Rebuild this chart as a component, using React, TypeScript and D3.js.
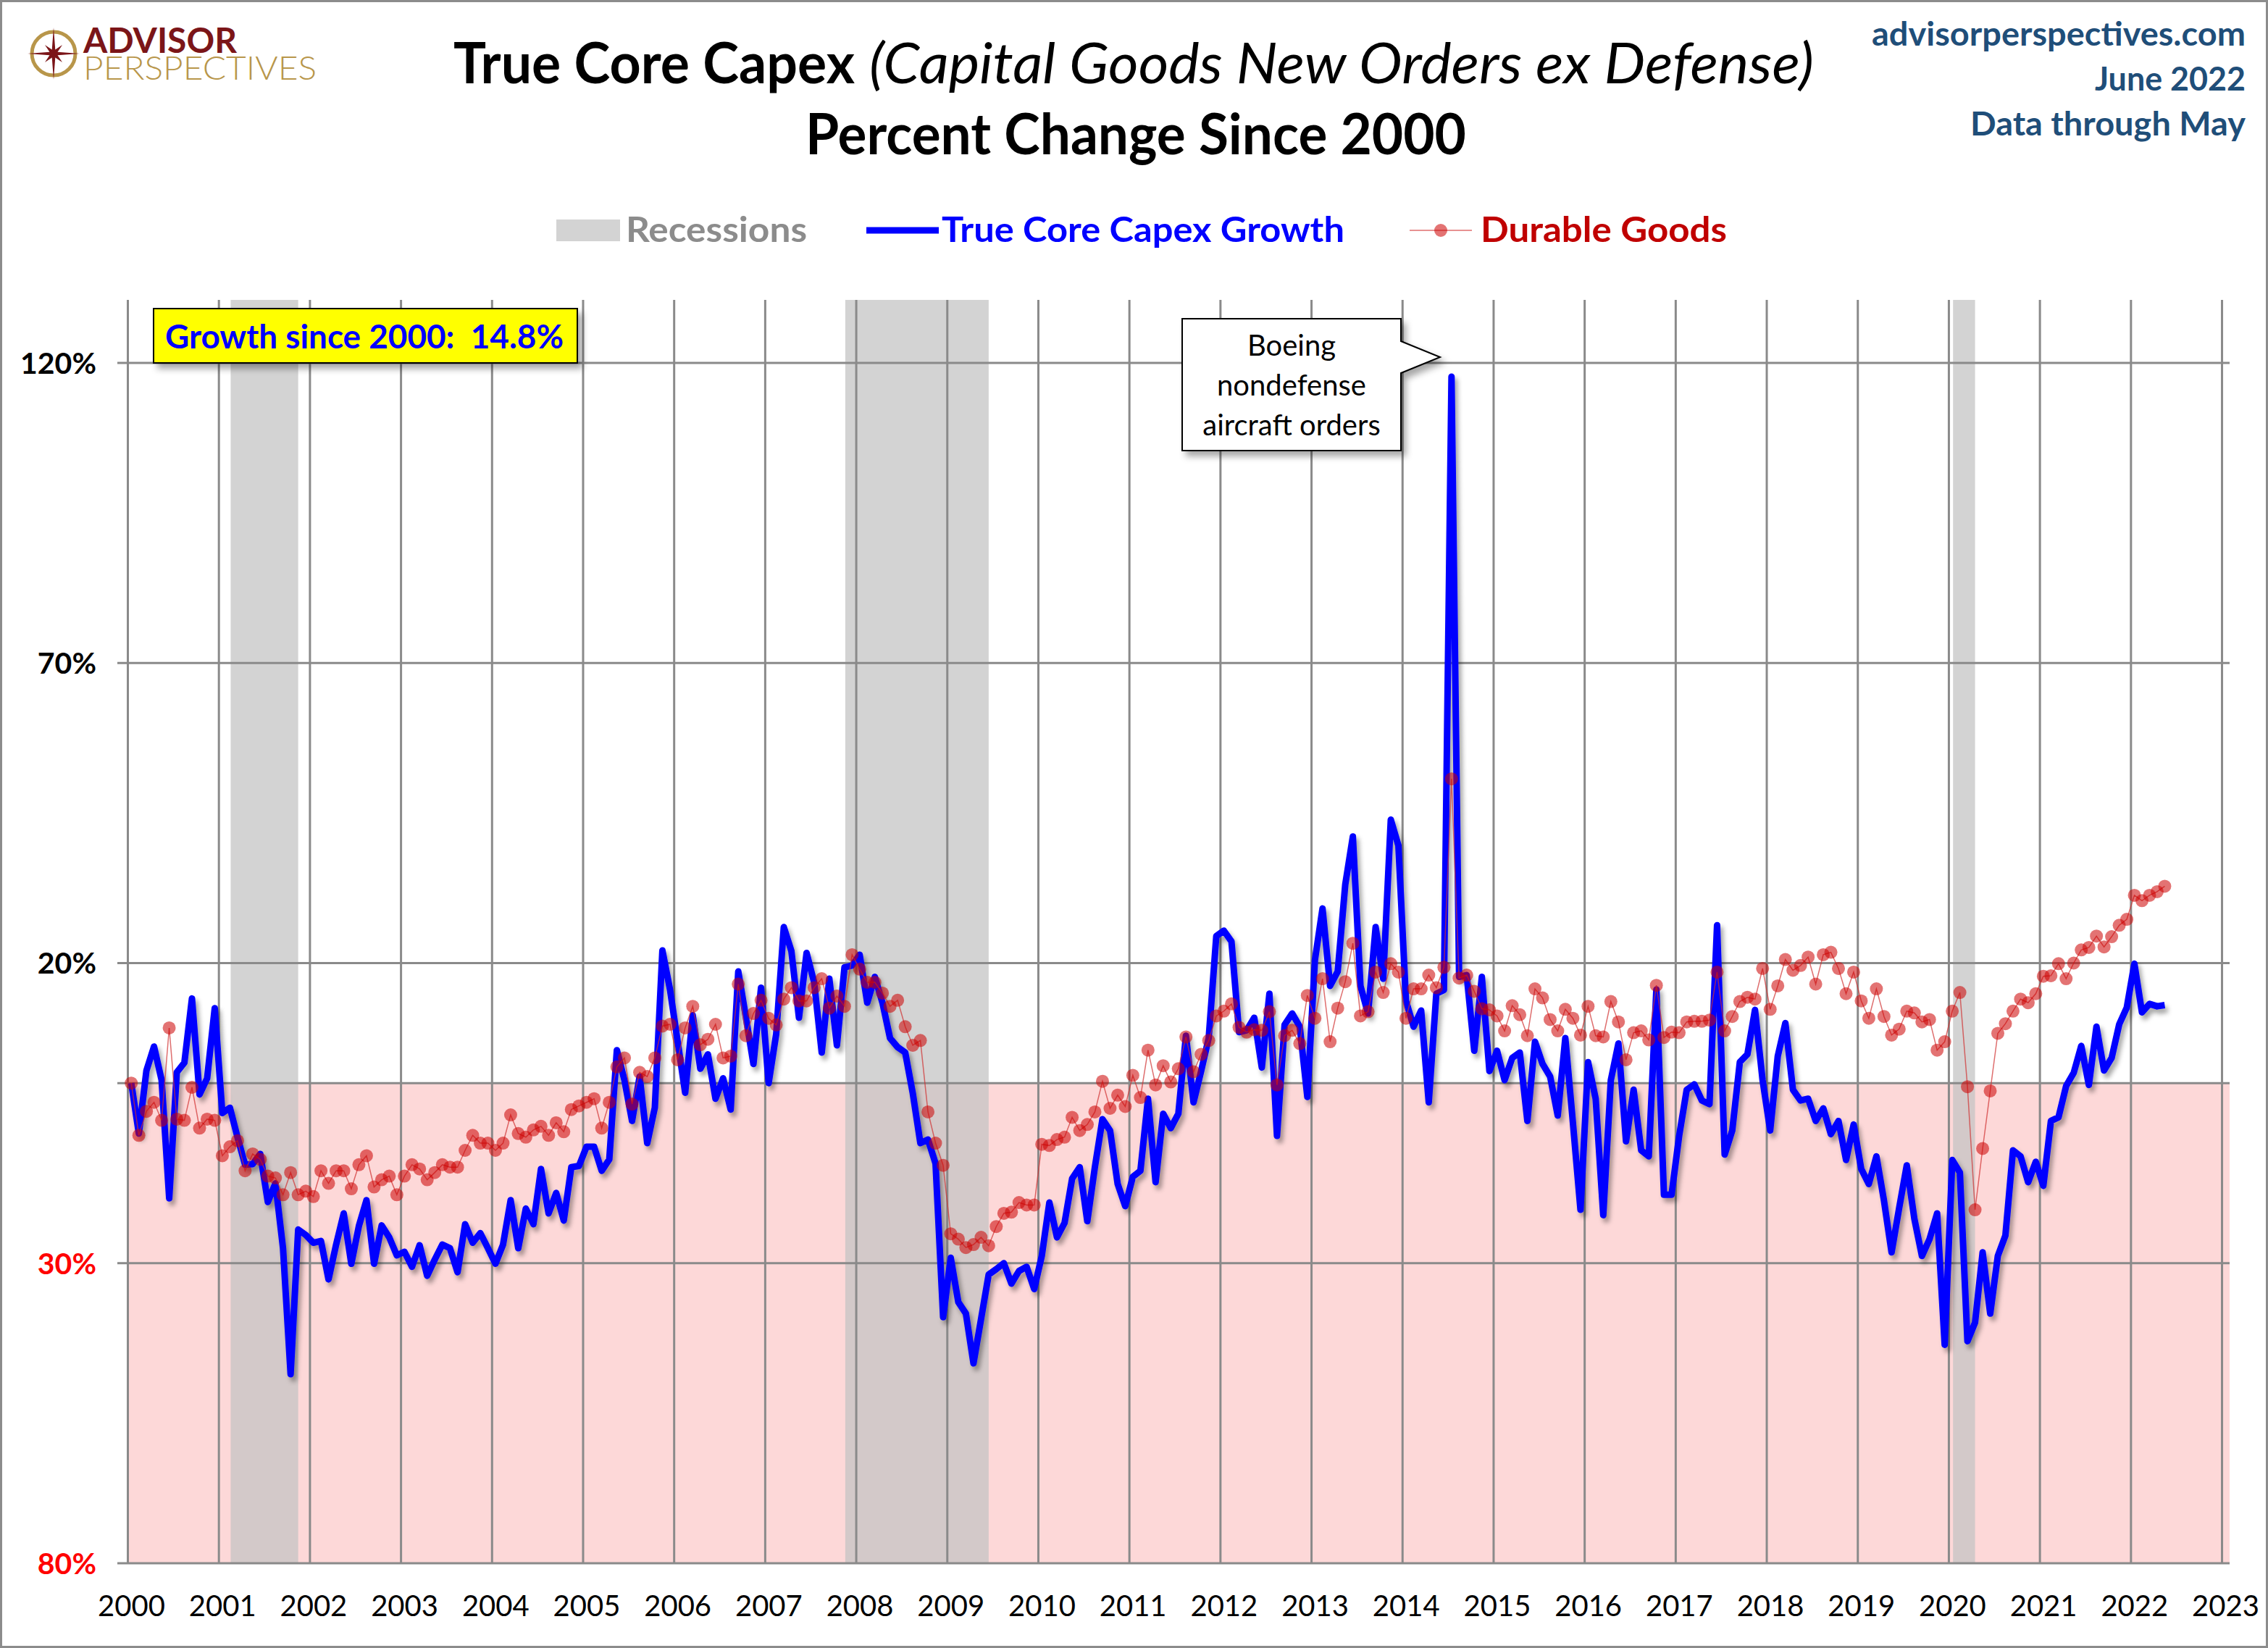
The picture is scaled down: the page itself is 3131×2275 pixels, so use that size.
import * as d3 from 'd3';

// Month index 0 = Jan 2000, last = May 2022
const capexGrowth: number[] = [
  0.0, -8.4, 2.1, 6.1, 0.5, -19.2, 1.8, 3.4, 14.1, -1.9, 0.8, 12.5, // 2000
  -5.0, -4.1, -9.0, -13.6, -13.5, -11.8, -19.8, -16.7, -27.5, -48.5, -24.4, -25.3, // 2001
  -26.6, -26.3, -32.7, -26.9, -21.7, -30.1, -23.8, -19.5, -30.1, -23.7, -25.7, -28.7, // 2002
  -28.1, -30.6, -27.0, -32.1, -29.4, -26.9, -27.5, -31.5, -23.5, -26.6, -25.0, -27.5, // 2003
  -30.1, -26.9, -19.5, -27.5, -20.9, -23.5, -14.3, -21.7, -18.3, -22.9, -14.0, -13.8, // 2004
  -10.6, -10.6, -14.6, -12.7, 5.5, 0.5, -6.3, 1.1, -10.0, -4.1, 22.1, 15.6, // 2005
  7.0, -1.6, 11.3, 2.4, 4.8, -2.6, 0.8, -4.4, 18.6, 11.0, 3.2, 15.9, // 2006
  0.0, 8.2, 26.0, 22.0, 10.9, 21.7, 16.8, 5.1, 17.4, 6.3, 19.3, 19.6, // 2007
  21.4, 13.4, 17.7, 13.4, 7.5, 6.0, 5.1, -1.7, -10.0, -9.4, -13.4, -39.0, // 2008
  -29.1, -36.5, -38.4, -46.7, -39.3, -31.9, -31.0, -30.0, -33.4, -31.3, -30.6, -34.3, // 2009
  -28.8, -19.9, -25.7, -23.3, -15.9, -14.0, -23.0, -14.0, -6.0, -7.9, -16.8, -20.5, // 2010
  -15.6, -14.6, -2.6, -16.5, -5.1, -7.5, -5.1, 7.9, -3.2, 2.0, 7.5, 24.5, // 2011
  25.4, 23.6, 8.5, 8.8, 10.9, 2.6, 14.9, -8.8, 9.7, 11.6, 9.4, -2.3, // 2012
  20.5, 29.1, 16.2, 18.6, 33.1, 41.1, 16.2, 11.6, 26.0, 17.4, 43.9, 39.6, // 2013
  13.7, 9.4, 12.1, -3.2, 14.9, 15.5, 117.7, 17.7, 18.0, 5.4, 17.7, 2.0, // 2014
  5.4, 0.5, 4.2, 5.1, -6.3, 6.9, 3.2, 1.1, -5.4, 7.5, -6.6, -21.1, // 2015
  3.5, -2.6, -22.0, 0.5, 6.6, -9.7, -1.1, -11.2, -12.2, 15.6, -18.6, -18.6, // 2016
  -8.8, -1.1, -0.2, -2.9, -3.5, 26.3, -11.9, -7.9, 3.5, 4.8, 12.2, 0.5, // 2017
  -7.9, 4.5, 10.0, -1.1, -2.9, -2.6, -6.3, -4.2, -8.5, -6.3, -12.8, -6.9, // 2018
  -14.3, -16.8, -12.2, -19.6, -28.2, -20.8, -13.7, -22.6, -28.8, -26.0, -21.7, -43.6, // 2019
  -12.8, -14.9, -43.0, -39.9, -28.2, -38.4, -28.8, -25.4, -11.2, -12.2, -16.5, -13.1, // 2020
  -17.1, -6.3, -5.7, -0.5, 1.7, 6.2, -0.3, 9.4, 2.1, 4.2, 9.8, 12.6, // 2021
  19.9, 11.8, 13.2, 12.8, 13.0, // 2022
];

const durableGoods: number[] = [
  0.0, -8.7, -4.7, -3.2, -6.2, 9.2, -6.0, -6.2, -0.7, -7.5, -6.0, -6.2, // 2000
  -12.1, -10.6, -9.6, -14.6, -11.8, -12.7, -15.5, -15.8, -18.6, -14.9, -18.6, -18.0, // 2001
  -18.9, -14.6, -16.7, -14.6, -14.6, -17.6, -13.6, -12.1, -17.3, -16.1, -15.5, -18.6, // 2002
  -15.5, -13.6, -14.3, -16.1, -14.9, -13.6, -14.0, -14.0, -11.2, -8.7, -10.0, -10.0, // 2003
  -11.2, -10.0, -5.3, -8.4, -9.0, -7.8, -7.2, -8.7, -6.6, -8.1, -4.4, -3.8, // 2004
  -3.2, -2.6, -7.5, -3.2, 2.7, 4.2, -3.5, 1.8, 1.1, 4.2, 9.5, 9.8, // 2005
  3.9, 9.2, 12.8, 6.4, 7.3, 9.8, 4.2, 4.5, 16.5, 7.9, 11.6, 13.8, // 2006
  10.8, 9.7, 14.0, 15.9, 13.7, 13.7, 15.9, 17.4, 12.5, 14.5, 12.8, 21.4, // 2007
  19.0, 16.8, 16.8, 15.0, 12.8, 13.8, 9.4, 6.3, 7.1, -4.8, -10.0, -13.7, // 2008
  -25.1, -26.0, -27.4, -26.9, -25.7, -27.1, -23.9, -21.7, -21.5, -19.9, -20.3, -20.3, // 2009
  -10.2, -10.4, -9.4, -9.0, -5.7, -7.9, -6.9, -4.8, 0.3, -4.2, -2.0, -3.9, // 2010
  1.3, -2.4, 5.5, -0.3, 2.9, 0.2, 2.4, 7.7, 1.9, 4.8, 7.1, 11.2, // 2011
  12.0, 13.2, 9.3, 8.5, 8.9, 8.8, 11.9, -0.3, 7.9, 8.8, 6.6, 14.6, // 2012
  10.8, 17.4, 6.9, 12.5, 16.9, 23.3, 11.2, 11.9, 18.5, 15.1, 19.9, 18.5, // 2013
  10.8, 15.7, 15.7, 18.0, 15.9, 19.3, 50.7, 17.5, 18.0, 15.3, 12.4, 12.2, // 2014
  11.2, 8.7, 12.9, 11.4, 7.9, 15.7, 14.2, 10.6, 8.7, 12.3, 10.8, 8.0, // 2015
  12.8, 7.9, 7.7, 13.6, 10.2, 3.9, 8.4, 8.7, 7.2, 16.3, 7.6, 8.5, // 2016
  8.4, 10.2, 10.3, 10.3, 10.5, 18.5, 8.7, 11.1, 13.6, 14.3, 14.0, 19.1, // 2017
  12.3, 16.2, 20.6, 18.8, 19.6, 21.0, 16.5, 21.4, 21.8, 19.1, 14.9, 18.5, // 2018
  13.7, 10.8, 15.7, 11.1, 8.0, 9.0, 12.0, 11.7, 10.2, 10.6, 5.5, 6.9, // 2019
  12.0, 15.1, -0.6, -21.1, -10.9, -1.3, 8.3, 9.9, 12.0, 14.0, 13.4, 14.9, // 2020
  17.8, 17.9, 19.9, 17.4, 20.0, 22.2, 22.6, 24.5, 22.7, 24.4, 26.3, 27.3, // 2021
  31.3, 30.4, 31.3, 31.9, 32.8, // 2022
];

// recessions as [first month index, last month index]
const recessions: [number, number][] = [
  [14, 22], // Mar 2001 - Nov 2001
  [95, 113], // Dec 2007 - Jun 2009
  [241, 243], // Feb 2020 - Apr 2020
];

const yearLabels: number[] = d3.range(2000, 2024);
const yTicks: number[] = [120, 70, 20, -30, -80];
const boeingNote: string[] = ['Boeing', 'nondefense', 'aircraft orders'];

const W = 3131;
const H = 2275;
const FONT = "Lato, 'Open Sans', 'Liberation Sans', sans-serif";

export default function App() {
  const x = d3.scaleLinear().domain([0, 277]).range([176.5, 3078]);
  const y = d3.scaleLinear().domain([-80, 130.5]).range([2158, 414]);
  const px = (i: number) => x(i + 0.45);

  const line = d3
    .line<number>()
    .x((_, i) => px(i))
    .y((d) => y(d));

  const plotLeft = x(0);
  const plotRight = x(277);
  const plotTop = y(130.5);
  const plotBottom = y(-80);

  // compass star of the logo
  const starPts: [number, number][] = d3.range(16).map((k) => {
    const a = (k * Math.PI) / 8 - Math.PI / 2;
    const r = k % 4 === 0 ? 36 : k % 2 === 0 ? 17 : 6;
    return [74 + r * Math.cos(a), 74 + r * Math.sin(a)];
  });
  const starPath = d3.line()(starPts) + 'Z';

  return (
    <svg
      width={W}
      height={H}
      viewBox={`0 0 ${W} ${H}`}
      style={{ position: 'absolute', left: 0, top: 0, background: '#fff' }}
      fontFamily={FONT}
    >
      <defs>
        <filter id="lineShadow" filterUnits="userSpaceOnUse" x="0" y="0" width={W} height={H}>
          <feDropShadow dx="4" dy="6" stdDeviation="3" floodColor="#000" floodOpacity="0.35" />
        </filter>
        <filter id="boxShadow" filterUnits="userSpaceOnUse" x="0" y="0" width={W} height={H}>
          <feDropShadow dx="6" dy="7" stdDeviation="5" floodColor="#000" floodOpacity="0.35" />
        </filter>
      </defs>

      <rect x={0} y={0} width={W} height={H} fill="#fff" />

      {/* logo */}
      <circle cx={74} cy={74} r={30} fill="none" stroke="#b8964a" strokeWidth={5} />
      <path d={starPath} fill="#7b1518" />
      <text>
        <tspan x={115} y={73} fontSize={48} fontWeight={700} fill="#7b1518" textLength={212} lengthAdjust="spacingAndGlyphs">
          ADVISOR
        </tspan>
        <tspan x={115} y={110} fontSize={46} fontWeight={300} fill="#b8964a" textLength={322} lengthAdjust="spacingAndGlyphs">
          PERSPECTIVES
        </tspan>
      </text>

      {/* titles */}
      <text x={626} y={115} fontSize={78} fontWeight={700} fill="#000" textLength={554} lengthAdjust="spacingAndGlyphs">
        True Core Capex
      </text>
      <text x={1200} y={115} fontSize={78} fontStyle="italic" fill="#000" textLength={1304} lengthAdjust="spacingAndGlyphs">
        (Capital Goods New Orders ex Defense)
      </text>
      <text x={1112} y={213} fontSize={78} fontWeight={700} fill="#000" textLength={912} lengthAdjust="spacingAndGlyphs">
        Percent Change Since 2000
      </text>

      <g fill="#1f4e79" fontWeight={700} fontSize={46} textAnchor="end">
        <text x={3100} y={63} textLength={516} lengthAdjust="spacingAndGlyphs">advisorperspectives.com</text>
        <text x={3100} y={125} textLength={208} lengthAdjust="spacingAndGlyphs">June 2022</text>
        <text x={3100} y={187} textLength={380} lengthAdjust="spacingAndGlyphs">Data through May</text>
      </g>

      {/* legend */}
      <rect x={768} y={303} width={88} height={30} fill="#d3d3d3" />
      <text x={864} y={334} fontSize={48} fontWeight={700} fill="#8c8c8c" textLength={250} lengthAdjust="spacingAndGlyphs">
        Recessions
      </text>
      <line x1={1196} x2={1296} y1={318} y2={318} stroke="#0000ff" strokeWidth={9} />
      <text x={1300} y={334} fontSize={48} fontWeight={700} fill="#0000ff" textLength={556} lengthAdjust="spacingAndGlyphs">
        True Core Capex Growth
      </text>
      <line x1={1946} x2={2032} y1={318} y2={318} stroke="#d03030" strokeWidth={1.5} opacity={0.7} />
      <circle cx={1989} cy={318} r={9} fill="#cc0000" fillOpacity={0.55} />
      <text x={2044} y={334} fontSize={48} fontWeight={700} fill="#c00000" textLength={340} lengthAdjust="spacingAndGlyphs">
        Durable Goods
      </text>

      {/* negative zone */}
      <rect x={plotLeft} y={y(0)} width={plotRight - plotLeft} height={plotBottom - y(0)} fill="#fdd8d8" />

      {/* recessions */}
      {recessions.map(([s, e], i) => (
        <rect
          key={i}
          x={x(s - 0.45)}
          y={plotTop}
          width={x(e + 0.45) - x(s - 0.45)}
          height={plotBottom - plotTop}
          fill="#c4c4c4"
          fillOpacity={0.75}
        />
      ))}

      {/* grid */}
      <g stroke="#8a8a8a" strokeWidth={3}>
        {yearLabels.map((yr) => (
          <line key={yr} x1={x((yr - 2000) * 12)} x2={x((yr - 2000) * 12)} y1={plotTop} y2={plotBottom} />
        ))}
        {[...yTicks, 0].map((t) => (
          <line key={t} x1={162} x2={plotRight} y1={y(t)} y2={y(t)} />
        ))}
      </g>

      {/* y labels */}
      <g fontSize={41} fontWeight={700} textAnchor="end">
        {yTicks.map((t) => (
          <text key={t} x={133} y={y(t)} dy="0.36em" fill={t < 0 ? '#ff0000' : '#000'}>
            {Math.abs(t)}%
          </text>
        ))}
      </g>

      {/* x labels */}
      <g fontSize={40} textAnchor="middle" fill="#000">
        {yearLabels.map((yr) => (
          <text key={yr} x={x((yr - 2000) * 12) + 5} y={2231}>
            {yr}
          </text>
        ))}
      </g>

      {/* growth box */}
      <rect x={212} y={426} width={585} height={75} fill="#ffff00" stroke="#000" strokeWidth={2} filter="url(#boxShadow)" />
      <text
        x={228}
        y={481}
        fontSize={46}
        fontWeight={700}
        fill="#0000ff"
        style={{ whiteSpace: 'pre' }}
        textLength={550}
        lengthAdjust="spacingAndGlyphs"
      >
        {'Growth since 2000:  14.8%'}
      </text>

      {/* Boeing callout */}
      <path
        d="M1632,440 L1934,440 L1934,471 L1988,493 L1934,515 L1934,622 L1632,622 Z"
        fill="#fff"
        stroke="#000"
        strokeWidth={2}
        filter="url(#boxShadow)"
      />
      <g fontSize={40} textAnchor="middle" fill="#000">
        {boeingNote.map((s, i) => (
          <text key={s} x={1783} y={491 + i * 55}>
            {s}
          </text>
        ))}
      </g>

      {/* true core capex line */}
      <path
        d={line(capexGrowth) ?? ''}
        fill="none"
        stroke="#0000ff"
        strokeWidth={9}
        strokeLinejoin="round"
        filter="url(#lineShadow)"
      />

      {/* durable goods */}
      <path d={line(durableGoods) ?? ''} fill="none" stroke="#d03030" strokeWidth={1.5} opacity={0.7} />
      <g fill="#cc0000" fillOpacity={0.55}>
        {durableGoods.map((d, i) => (
          <circle key={i} cx={px(i)} cy={y(d)} r={9} />
        ))}
      </g>

      {/* outer border */}
      <rect x={1.5} y={1.5} width={W - 3} height={H - 3} fill="none" stroke="#8c8c8c" strokeWidth={3} />
    </svg>
  );
}
